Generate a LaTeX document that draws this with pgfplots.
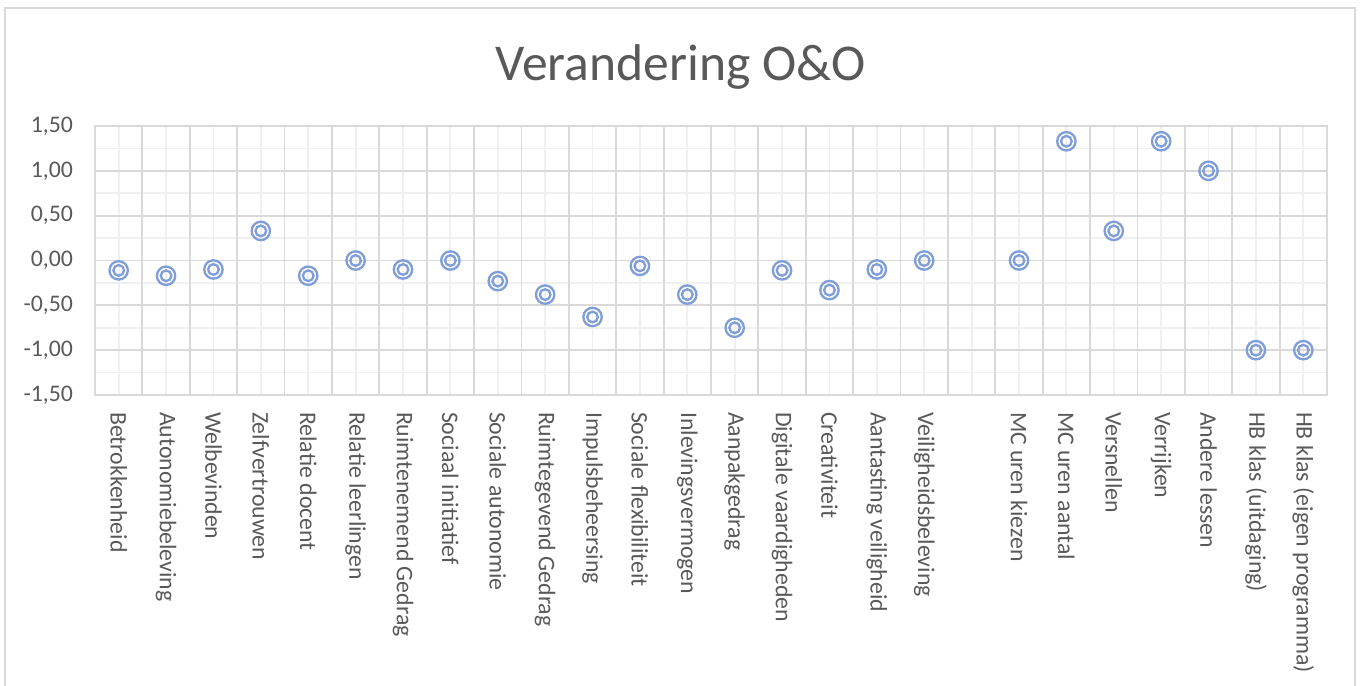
\documentclass[border=0pt]{standalone}
\usepackage{pgfplots}
\pgfplotsset{compat=1.18}
\usepackage{fontspec}
\setmainfont{Carlito}

\definecolor{txt}{HTML}{595959}
\definecolor{gmaj}{HTML}{D9D9D9}
\definecolor{gmin}{HTML}{F0F0F0}
\definecolor{mk}{RGB}{127,158,217}

% double circle marker (Excel style)
\pgfdeclareplotmark{dcirc}{%
  \pgfpathcircle{\pgfpointorigin}{\pgfplotmarksize}%
  \pgfpathcircle{\pgfpointorigin}{0.58\pgfplotmarksize}%
  \pgfusepathqstroke}

\begin{document}
\begin{tikzpicture}
\begin{scope}[x=0.5pt,y=-0.5pt]
  \useasboundingbox (0,0) rectangle (1362,686);
  \draw[gmaj, line width=0.75pt] (5,700) -- (5,8) -- (1355,8) -- (1355,700);
  \node[txt, anchor=base, font=\fontsize{25.8}{30}\selectfont] at (680.5,80) {Verandering O\&O};
\end{scope}
\begin{axis}[
  at={(47.5pt,-197.5pt)}, anchor=south west,
  scale only axis, width=616pt, height=134.5pt,
  xmin=0.5, xmax=26.5, ymin=-1.5, ymax=1.5,
  axis line style={gmaj, line width=0.9pt},
  major tick length=0pt, minor tick length=0pt,
  ytick={-1.5,-1,...,1.5},
  minor ytick={-1.25,-0.75,...,1.25},
  ymajorgrids, yminorgrids, xminorgrids,
  major grid style={gmaj, line width=0.9pt},
  minor grid style={gmin, line width=0.9pt},
  xtick={1,...,26},
  minor xtick={1,...,26},
  extra x ticks={1.5,2.5,...,25.5},
  extra x tick labels={},
  extra x tick style={xmajorgrids=true},
  xticklabels={Betrokkenheid,Autonomiebeleving,Welbevinden,Zelfvertrouwen,Relatie docent,Relatie leerlingen,Ruimtenemend Gedrag,Sociaal initiatief,Sociale autonomie,Ruimtegevend Gedrag,Impulsbeheersing,Sociale flexibiliteit,Inlevingsvermogen,Aanpakgedrag,Digitale vaardigheden,Creativiteit,Aantasting veiligheid,Veiligheidsbeleving,,MC uren kiezen,MC uren aantal,Versnellen,Verrijken,Andere lessen,HB klas (uitdaging),HB klas (eigen programma)},
  x tick label style={rotate=-90, anchor=west, text=txt, font=\fontsize{11.9}{14}\selectfont, xshift=5pt},
  y tick label style={text=txt, font=\fontsize{11.9}{14}\selectfont, xshift=-7.5pt},
  yticklabel style={/pgf/number format/.cd, fixed, fixed zerofill, precision=2, use comma, assume math mode=true},
  clip=false,
]
\addplot[only marks, mark=dcirc, mark size=4.6pt, mark options={draw=mk, line width=1.15pt}] coordinates {
  (1,-0.11) (2,-0.17) (3,-0.10) (4,0.33) (5,-0.17) (6,0.00) (7,-0.10) (8,0.00)
  (9,-0.23) (10,-0.38) (11,-0.63) (12,-0.06) (13,-0.38) (14,-0.75) (15,-0.11)
  (16,-0.33) (17,-0.10) (18,0.00)
  (20,0.00) (21,1.33) (22,0.33) (23,1.33) (24,1.00) (25,-1.00) (26,-1.00)};
\end{axis}
\end{tikzpicture}
\end{document}
